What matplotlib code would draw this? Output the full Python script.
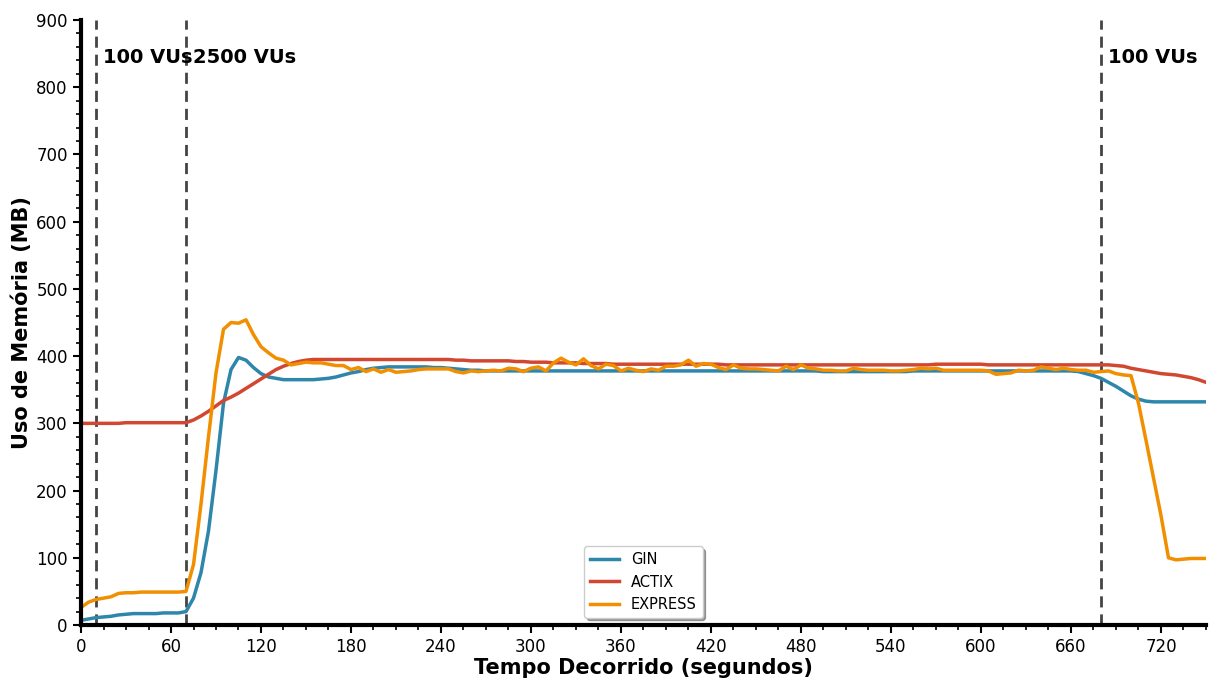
import numpy as np
import matplotlib
matplotlib.use("Agg")
import matplotlib.pyplot as plt
from matplotlib.ticker import MultipleLocator

# time axis (seconds), sampled every 5 s
time_s = np.arange(0, 755, 5)

gin = [
    7, 9, 11, 12, 13, 15, 16, 17, 17, 17, 17, 18, 18, 18, 20, 40, 78, 140, 230, 330,   # 0-95
    380, 398, 394, 383, 374, 369, 367, 365, 365, 365, 365, 365, 366, 367, 369, 372,     # 100-175
    375, 377, 380, 382, 383, 384, 384, 384, 384, 384, 384, 383, 383, 382, 381, 380,     # 180-255
    379, 379, 378, 378, 378, 378, 378, 378, 378, 378, 378, 378, 378, 378, 378, 378,     # 260-335
    378, 378, 378, 378, 378, 378, 378, 378, 378, 378, 378, 378, 378, 378, 378, 378,     # 340-415
    378, 378, 378, 378, 378, 378, 378, 378, 378, 378, 378, 378, 378, 378, 378, 377,     # 420-495
    377, 377, 377, 377, 377, 377, 377, 377, 377, 377, 377, 378, 378, 378, 378, 378,     # 500-575
    378, 378, 378, 378, 378, 378, 378, 378, 378, 378, 378, 378, 378, 378, 378, 378,     # 580-655
    378, 377, 374, 371, 367, 361, 355, 348, 341, 336, 333, 332, 332, 332, 332, 332,     # 660-735
    332, 332, 332,                                                                     # 740-750
]

actix = [
    300, 300, 300, 300, 300, 300, 301, 301, 301, 301, 301, 301, 301, 301, 301, 305,     # 0-75
    311, 318, 326, 334, 339, 345, 352, 359, 366, 373, 380, 385, 389, 392, 394, 395,     # 80-155
    395, 395, 395, 395, 395, 395, 395, 395, 395, 395, 395, 395, 395, 395, 395, 395,     # 160-235
    395, 395, 394, 394, 393, 393, 393, 393, 393, 393, 392, 392, 391, 391, 391, 390,     # 240-315
    390, 390, 390, 389, 389, 389, 389, 388, 388, 388, 388, 388, 388, 388, 388, 388,     # 320-395
    388, 388, 388, 388, 388, 388, 387, 387, 387, 387, 387, 387, 387, 387, 387, 387,     # 400-475
    387, 387, 387, 387, 387, 387, 387, 387, 387, 387, 387, 387, 387, 387, 387, 387,     # 480-555
    387, 387, 388, 388, 388, 388, 388, 388, 388, 387, 387, 387, 387, 387, 387, 387,     # 560-635
    387, 387, 387, 387, 387, 387, 387, 387, 387, 387, 386, 385, 382, 380, 378, 376,     # 640-715
    374, 373, 372, 370, 368, 365, 361,                                                 # 720-750
]

express = [
    26, 34, 38, 40, 42, 47, 48, 48, 49, 49, 49, 49, 49, 49, 50, 90,                     # 0-75
    180, 280, 375, 440, 450, 449, 454, 432, 414, 405, 397, 394, 387, 389, 391, 390,     # 80-155
    390, 388, 386, 386, 380, 383, 377, 381, 376, 380, 376, 377, 378, 380, 381, 381,     # 160-235
    381, 381, 377, 375, 378, 377, 378, 379, 378, 382, 381, 377, 382, 384, 378, 390,     # 240-315
    397, 391, 387, 396, 386, 381, 388, 386, 378, 382, 379, 377, 381, 379, 385, 385,     # 320-395
    387, 394, 385, 389, 388, 383, 380, 387, 382, 381, 381, 380, 379, 378, 385, 380,     # 400-475
    387, 382, 381, 379, 379, 378, 378, 382, 380, 379, 379, 379, 378, 378, 379, 380,     # 480-555
    382, 381, 382, 379, 379, 379, 379, 379, 379, 378, 373, 374, 375, 379, 378, 379,     # 560-635
    384, 382, 380, 382, 380, 379, 379, 376, 377, 378, 374, 372, 371, 330, 275, 219,     # 640-715
    163, 100, 97, 98, 99, 99, 99,                                                      # 720-750
]

series_names = ["GIN", "ACTIX", "EXPRESS"]
series_colors = ["#2E86AB", "#D2472F", "#F18F01"]

phase_times = [10, 70, 680]
phase_labels = ["100 VUs", "2500 VUs", "100 VUs"]

plt.rcParams['font.family'] = ['DejaVu Sans']

fig = plt.figure(figsize=(12.09, 6.79), dpi=100)
ax = fig.add_axes([0.067, 0.0795, 0.9305, 0.891])

for name, vals, col in zip(series_names, [gin, actix, express], series_colors):
    ax.plot(time_s, vals, color=col, lw=2.5, label=name)

for t, lab in zip(phase_times, phase_labels):
    ax.axvline(t, color="#444444", ls=(0, (4, 2.5)), lw=2, zorder=1)
    ax.text(t + 4.5, 845, lab, fontsize=14, fontweight="bold", va="center", ha="left")

ax.set_xlim(0, 750)
ax.set_ylim(0, 900)
ax.xaxis.set_major_locator(MultipleLocator(60))
ax.xaxis.set_minor_locator(MultipleLocator(15))
ax.yaxis.set_major_locator(MultipleLocator(100))
ax.yaxis.set_minor_locator(MultipleLocator(20))

for s in ["top", "right"]:
    ax.spines[s].set_visible(False)
for s in ["left", "bottom"]:
    ax.spines[s].set_linewidth(3)

ax.tick_params(which="major", length=6, width=1.5, labelsize=12)
ax.tick_params(which="minor", length=3.5, width=1.2)

ax.set_xlabel("Tempo Decorrido (segundos)", fontsize=15, fontweight="bold", labelpad=1)
ax.set_ylabel("Uso de Memória (MB)", fontsize=15, fontweight="bold", labelpad=3)

leg = ax.legend(loc="lower center", fontsize=10.5, shadow=True, framealpha=1,
                borderaxespad=0.5)

fig.savefig("out.png", dpi=100)
